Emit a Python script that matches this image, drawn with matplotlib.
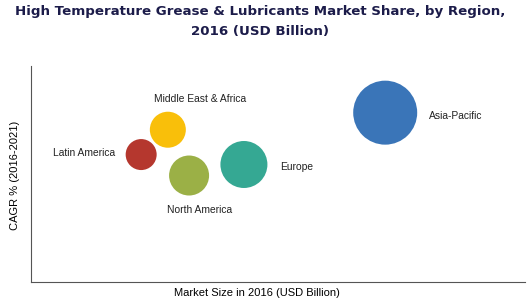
import matplotlib.pyplot as plt
import numpy as np

# regions and their position on the (unscaled) chart axes
regions = ["Latin America", "Middle East & Africa", "North America", "Europe", "Asia-Pacific"]
market_size = [2.23, 2.77, 3.20, 4.31, 7.17]
cagr = [5.9, 7.05, 4.93, 5.44, 7.84]
bubble = [15.5, 18, 20, 23.5, 32]  # relative bubble radius
colors = ["#b5372e", "#f9bf0a", "#9bb046", "#35a893", "#3a75b8"]

fig = plt.figure(figsize=(5.30, 3.01), dpi=100)
ax = fig.add_axes([31/530, 1-282/301, 494/530, 216/301])

r = np.array(bubble)
ax.scatter(market_size, cagr, s=(2*r*0.72)**2, c=colors, edgecolors="none", zorder=3)

lab = dict(textcoords="offset pixels", va="center", fontsize=7.4, family="Liberation Sans", color="#222222")
# labels placed around each bubble
ax.annotate("Latin America", (market_size[0], cagr[0]), xytext=(-26, 2), ha="right", **lab)
ax.annotate("Middle East & Africa", (market_size[1], cagr[1]), xytext=(32, 31), ha="center", **lab)
ax.annotate("North America", (market_size[2], cagr[2]), xytext=(10, -34), ha="center", **lab)
ax.annotate("Europe", (market_size[3], cagr[3]), xytext=(36, -3), ha="left", **lab)
ax.annotate("Asia-Pacific", (market_size[4], cagr[4]), xytext=(44, -3), ha="left", **lab)

ax.set_xlim(0, 10)
ax.set_ylim(0, 10)
ax.set_xticks([])
ax.set_yticks([])
ax.spines["top"].set_visible(False)
ax.spines["right"].set_visible(False)
ax.spines["left"].set_color("#555555")
ax.spines["bottom"].set_color("#555555")
ax.spines["left"].set_linewidth(0.8)
ax.spines["bottom"].set_linewidth(0.8)

fig.text(257/530, 1-293/301, "Market Size in 2016 (USD Billion)", ha="center", va="center",
         fontsize=8, family="Liberation Sans")
fig.text(15/530, 1-175/301, "CAGR % (2016-2021)", ha="center", va="center", rotation=90,
         fontsize=8, family="Liberation Sans")

fig.text(260/530, 1-11/301, "High Temperature Grease & Lubricants Market Share, by Region,",
         ha="center", va="center", fontsize=9.6, fontweight="bold", color="#1c1c4a")
fig.text(260/530, 1-31/301, "2016 (USD Billion)",
         ha="center", va="center", fontsize=9.6, fontweight="bold", color="#1c1c4a")

fig.savefig("out.png", dpi=100)
